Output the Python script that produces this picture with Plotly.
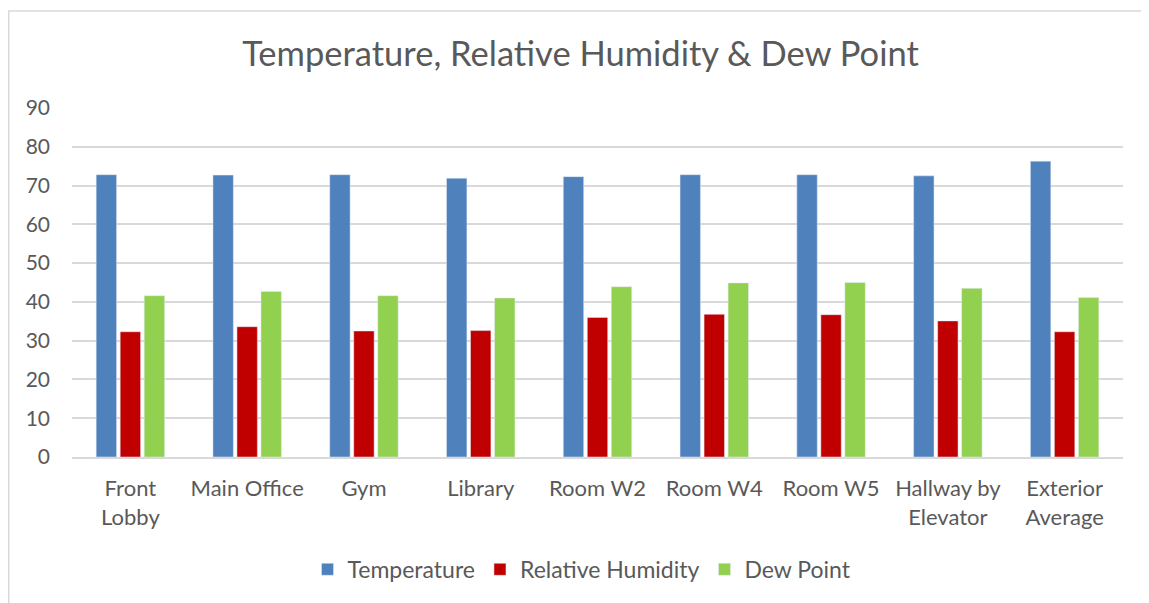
import plotly.graph_objects as go

categories = ["Front<br>Lobby", "Main Office", "Gym", "Library", "Room W2", "Room W4",
              "Room W5", "Hallway by<br>Elevator", "Exterior<br>Average"]
temperature = [72.8, 72.7, 72.8, 71.9, 72.3, 72.8, 72.8, 72.5, 76.3]
humidity = [32.3, 33.6, 32.5, 32.6, 36.0, 36.8, 36.7, 35.1, 32.3]
dew_point = [41.6, 42.7, 41.6, 41.0, 43.9, 44.9, 45.0, 43.5, 41.1]
y_ticks = [0, 10, 20, 30, 40, 50, 60, 70, 80, 90]

FONT = "Lato"
TXT = "#595959"
GRID = "#D9D9D9"

fig = go.Figure()
fig.add_trace(go.Bar(name="Temperature", x=categories, y=temperature, marker_color="#4F81BD"))
fig.add_trace(go.Bar(name="Relative Humidity", x=categories, y=humidity, marker_color="#C00000"))
fig.add_trace(go.Bar(name="Dew Point", x=categories, y=dew_point, marker_color="#92D050"))

# the page body has an 8px margin; work in page pixels and convert
OFF = 8
W, H = 1149 - OFF, 603 - OFF
L, T = 72 - OFF, 108 - OFF
R, B = 26, 144
pw, ph = W - L - R, H - T - B

def px(x):
    return (x - OFF - L) / pw

def py(y):
    return (H - B - (y - OFF)) / ph

fig.update_layout(
    width=W, height=H,
    margin=dict(l=L, r=R, t=T, b=B, pad=0),
    paper_bgcolor="white", plot_bgcolor="white",
    barmode="group", bargap=0.383, bargroupgap=0.15,
    font=dict(family=FONT, color=TXT),
    title=dict(text="Temperature, Relative Humidity & Dew Point",
               x=px(580.5), xanchor="center", xref="paper",
               y=1 - (54 - OFF) / H, yanchor="middle",
               font=dict(family=FONT, size=34.5, color=TXT)),
    xaxis=dict(showgrid=False, showline=True, linecolor=GRID, linewidth=1.5,
               ticks="", ticklabelstandoff=11,
               tickfont=dict(family=FONT, size=22, color=TXT)),
    yaxis=dict(range=[0, 90], tickvals=y_ticks, showgrid=True, gridcolor=GRID,
               gridwidth=1.5, zeroline=False, showline=False, ticks="",
               ticklabelstandoff=21,
               tickfont=dict(family=FONT, size=21, color=TXT)),
    legend=dict(orientation="h", x=px(582), xanchor="center", y=py(572), yanchor="middle",
                font=dict(family=FONT, size=23, color=TXT), itemwidth=30,
                traceorder="normal"),
    showlegend=True,
)

fig.add_shape(type="rect", xref="paper", yref="paper",
              x0=(0.75 - L) / pw, x1=px(1170), y0=py(640), y1=py(10.5),
              line=dict(color=GRID, width=1.5), fillcolor="rgba(0,0,0,0)", layer="below")

fig.write_html("out.html")
